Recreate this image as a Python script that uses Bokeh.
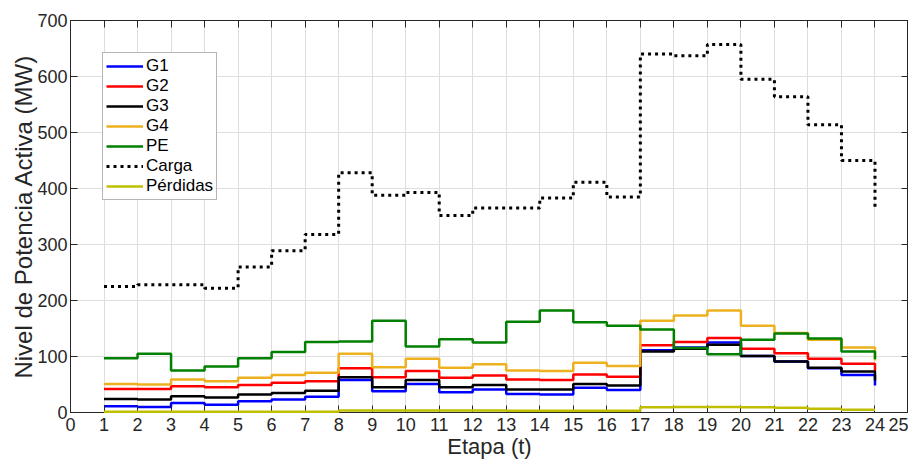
from bokeh.plotting import figure
from bokeh.models import LinearAxis, FixedTicker, Legend, LegendItem, CustomLabelingPolicy
from bokeh.embed import file_html
from bokeh.resources import INLINE

etapas = list(range(1, 25))
g1 = [11, 10, 17, 14, 20, 23, 28, 58, 38, 51, 36, 41, 33, 32, 44, 40, 111, 116, 125, 101, 91, 79, 67, 48]
g2 = [42, 42, 47, 45, 49, 53, 56, 79, 63, 74, 62, 66, 59, 58, 68, 64, 120, 126, 133, 114, 106, 96, 87, 74]
g3 = [24, 23, 29, 27, 32, 35, 39, 63, 45, 58, 45, 49, 41, 41, 51, 48, 109, 114, 121, 101, 91, 80, 73, 57]
g4 = [51, 50, 59, 56, 62, 67, 71, 105, 81, 96, 80, 86, 75, 74, 89, 83, 164, 173, 182, 155, 142, 130, 116, 93]
pe = [97, 105, 75, 82, 97, 108, 126, 127, 164, 118, 131, 125, 162, 182, 161, 155, 148, 115, 104, 130, 141, 132, 109, 95]
carga = [225, 228, 228, 222, 260, 289, 318, 428, 388, 393, 352, 365, 365, 383, 411, 385, 640, 637, 657, 595, 564, 514, 450, 362]
perdidas = [1.5, 1.5, 1.5, 1.5, 1.5, 1.5, 1.5, 3.5, 3.5, 3.5, 3.5, 3.5, 3, 3, 3, 3, 9.5, 10, 10, 9.5, 8.5, 6.5, 5, 5]

x_ticks = list(range(0, 26))
y_ticks = list(range(0, 701, 100))

FONT = "Liberation Sans"
AX = "#262626"

p = figure(frame_width=838, frame_height=392, x_range=(0, 25), y_range=(0, 700),
           output_backend="svg", toolbar_location=None,
           min_border_left=70, min_border_right=0, min_border_top=20, min_border_bottom=52)
p.background_fill_color = "white"
p.outline_line_color = AX

for ax in (p.xaxis[0], p.yaxis[0]):
    ax.major_tick_in = 7
    ax.major_tick_out = 0
    ax.minor_tick_line_color = None
    ax.axis_line_color = AX
    ax.major_tick_line_color = AX
    ax.major_label_text_color = AX
    ax.major_label_text_font = FONT
    ax.major_label_text_font_size = "18px"
    ax.axis_label_text_font = FONT
    ax.axis_label_text_font_style = "normal"
    ax.axis_label_text_color = AX

p.xaxis[0].ticker = FixedTicker(ticks=x_ticks)
p.yaxis[0].ticker = FixedTicker(ticks=y_ticks)
p.xaxis[0].axis_label = "Etapa (t)"
p.yaxis[0].axis_label = "Nivel de Potencia Activa (MW)"
p.xaxis[0].axis_label_text_font_size = "22px"
p.yaxis[0].axis_label_text_font_size = "24px"
p.xaxis[0].major_label_standoff = 5
p.xaxis[0].axis_label_standoff = 0
p.yaxis[0].major_label_standoff = 3
p.yaxis[0].axis_label_standoff = -3

top = LinearAxis(ticker=FixedTicker(ticks=x_ticks), major_label_text_font_size="0px",
                 major_label_policy=CustomLabelingPolicy(code="return []"),
                 major_label_standoff=0, major_tick_in=7, major_tick_out=0,
                 minor_tick_line_color=None, axis_line_color=AX, major_tick_line_color=AX)
right = LinearAxis(ticker=FixedTicker(ticks=y_ticks), major_label_text_font_size="0px",
                   major_label_policy=CustomLabelingPolicy(code="return []"),
                   major_label_standoff=0, major_tick_in=7, major_tick_out=0,
                   minor_tick_line_color=None, axis_line_color=AX, major_tick_line_color=AX)
p.add_layout(top, "above")
p.add_layout(right, "right")

p.xgrid.ticker = FixedTicker(ticks=x_ticks)
p.ygrid.ticker = FixedTicker(ticks=y_ticks)
p.grid.grid_line_color = "#dedede"
p.grid.grid_line_width = 1

series = [
    ("G1", g1, "#0000ff", None),
    ("G2", g2, "#ff0000", None),
    ("G3", g3, "#000000", None),
    ("G4", g4, "#edb120", None),
    ("PE", pe, "#008000", None),
    ("Carga", carga, "#000000", "3 4"),
    ("Pérdidas", perdidas, "#bfbf00", None),
]

items = []
for name, vals, col, dash in series:
    if dash:
        r = p.step(etapas, vals, mode="after", line_color=col, line_width=3, line_dash=dash)
    else:
        r = p.step(etapas, vals, mode="after", line_color=col, line_width=2.5)
    if name == "Pérdidas":
        r.level = "overlay"
    items.append(LegendItem(label=name, renderers=[r]))

legend = Legend(items=items, location="top_left", margin=32,
                label_text_font=FONT, label_text_font_size="17px", label_text_color="#000000",
                glyph_width=37, glyph_height=16, label_height=16, label_standoff=3,
                padding=3, spacing=-3, border_line_color="#6e6e6e", border_line_width=1,
                background_fill_color="white", background_fill_alpha=1)
p.add_layout(legend)

open("out.html", "w").write(file_html(p, INLINE))
